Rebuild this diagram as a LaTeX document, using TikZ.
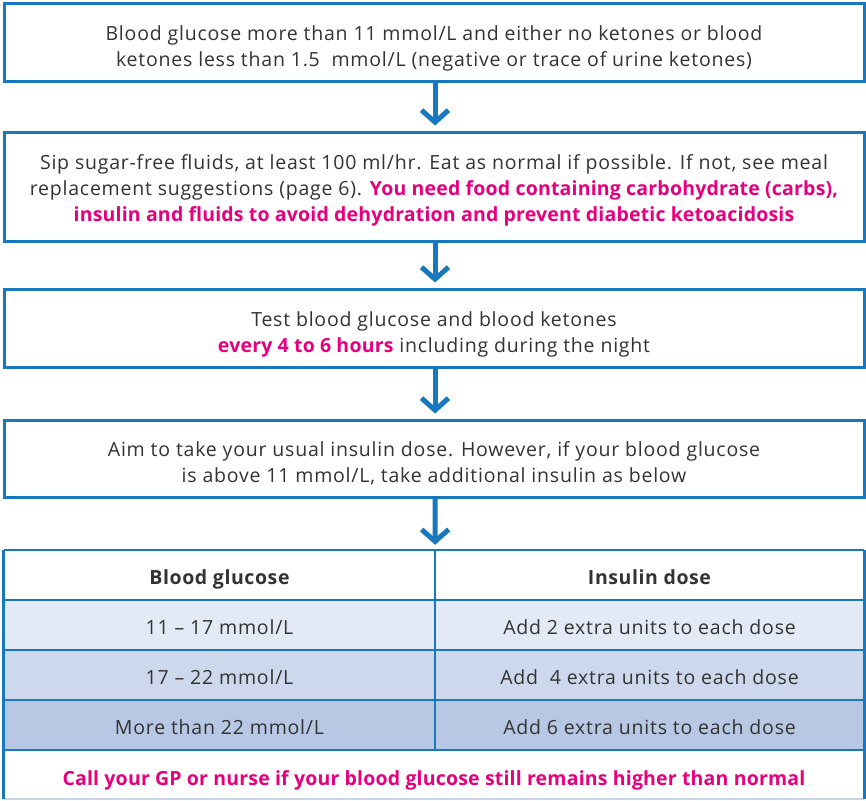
\documentclass[tikz,border=0pt]{standalone}
\usepackage{fontspec}
\setmainfont{Open Sans}
\usetikzlibrary{arrows.meta,calc}
\definecolor{nhsblue}{HTML}{1878BE}
\definecolor{pinkx}{HTML}{E6007E}
\definecolor{txt}{HTML}{333333}
\definecolor{rowA}{HTML}{E3E9F5}
\definecolor{rowB}{HTML}{CDD8EC}
\definecolor{rowC}{HTML}{B7C7E4}
\definecolor{lightline}{HTML}{C9D5E3}
\newcommand{\regfont}{\fontsize{19.5}{26}\selectfont\addfontfeatures{LetterSpace=4}}
\newcommand{\pk}[1]{\textcolor{pinkx}{\bfseries\addfontfeatures{LetterSpace=1}#1}}
\begin{document}
\begin{tikzpicture}[x=1pt,y=-1pt,
  flowbox/.style={draw=nhsblue,line width=3pt,fill=white,minimum width=860pt,inner sep=0pt},
  flowtext/.style={align=center,text=txt,font=\regfont,inner sep=0pt},
  cellbox/.style={minimum height=50pt,inner sep=0pt,text=txt,font=\regfont,
    text height=18.4pt,text depth=0pt},
  headfont/.style={font=\fontsize{19.5}{26}\selectfont\bfseries\addfontfeatures{LetterSpace=3}},
  flowarrow/.style={draw=nhsblue,line width=5pt,-{Straight Barb[length=12pt,width=27pt]},shorten >=5pt}
]
\useasboundingbox (0,0) rectangle (866,800);
\fill[white] (0,0) rectangle (866,800);

\node[flowbox,minimum height=77pt] (b1) at (434,42.5) {};
\node[flowtext] (b1t) at ([yshift=-5.5pt]b1.center)
  {Blood glucose more than 11 mmol/L and either no ketones or blood\\
   ketones less than 1.5\ \ mmol/L (negative or trace of urine ketones)};
\node[flowbox,minimum height=109pt] (b2) at (434,186.5) {};
\node[flowtext] (b2t) at ([yshift=-3.5pt]b2.center)
  {Sip sugar-free fluids, at least 100 ml/hr. Eat as normal if possible. If not, see meal\\
   replacement suggestions (page 6). \pk{You need food containing carbohydrate (carbs),}\\
   \pk{insulin and fluids to avoid dehydration and prevent diabetic ketoacidosis}};
\node[flowbox,minimum height=78pt] (b3) at (434,328) {};
\node[flowtext] (b3t) at ([yshift=-6pt]b3.center)
  {Test blood glucose and blood ketones\\
   \pk{every 4 to 6 hours} including during the night};
\node[flowbox,minimum height=77pt] (b4) at (434,458.5) {};
\node[flowtext] (b4t) at ([yshift=-4.5pt]b4.center)
  {Aim to take your usual insulin dose. However, if your blood glucose\\
   is above 11 mmol/L, take additional insulin as below};

% table cells
\node[cellbox,fill=white,minimum width=431pt,headfont] (h1) at (219.5,575) {Blood glucose};
\node[cellbox,fill=white,minimum width=429pt,headfont] (h2) at (649.5,575) {Insulin dose};
\node[cellbox,fill=rowA,minimum width=431pt] (r1a) at (219.5,625) {11 – 17 mmol/L};
\node[cellbox,fill=rowA,minimum width=429pt] (r1b) at (649.5,625) {Add 2 extra units to each dose};
\node[cellbox,fill=rowB,minimum width=431pt] (r2a) at (219.5,675) {17 – 22 mmol/L};
\node[cellbox,fill=rowB,minimum width=429pt] (r2b) at (649.5,675) {Add\ \ 4 extra units to each dose};
\node[cellbox,fill=rowC,minimum width=431pt] (r3a) at (219.5,725) {More than 22 mmol/L};
\node[cellbox,fill=rowC,minimum width=429pt] (r3b) at (649.5,725) {Add 6 extra units to each dose};
\node[cellbox,fill=white,minimum width=860pt,minimum height=49pt,text=pinkx,
  text height=22pt,
  font=\fontsize{19.5}{26}\selectfont\bfseries\addfontfeatures{LetterSpace=1}] (fin) at (434,774.5)
  {Call your GP or nurse if your blood glucose still remains higher than normal};

% table lines
\draw[lightline,line width=1.5pt] (fin.south west) -- (fin.south east);
\draw[nhsblue,line width=2.5pt] (h1.north west) -- (h2.north east);
\draw[nhsblue,line width=2.5pt] (r1a.north west) -- (r1b.north east);
\draw[nhsblue,line width=2.5pt] (r2a.north west) -- (r2b.north east);
\draw[nhsblue,line width=2.5pt] (r3a.north west) -- (r3b.north east);
\draw[nhsblue,line width=2.5pt] (fin.north west) -- (fin.north east);
\draw[nhsblue,line width=2.5pt] (h1.north east) -- (r3a.south east);
\draw[nhsblue,line width=3pt] (h1.north west) -- (fin.south west);
\draw[nhsblue,line width=3pt] (h2.north east) -- (fin.south east);

% arrows
\coordinate (ax) at (435,0);
\draw[flowarrow] (b1.south -| ax) -- (b2.north -| ax);
\draw[flowarrow] (b2.south -| ax) -- (b3.north -| ax);
\draw[flowarrow] (b3.south -| ax) -- (b4.north -| ax);
\draw[flowarrow] (b4.south -| ax) -- (h1.north east);
\end{tikzpicture}
\end{document}
